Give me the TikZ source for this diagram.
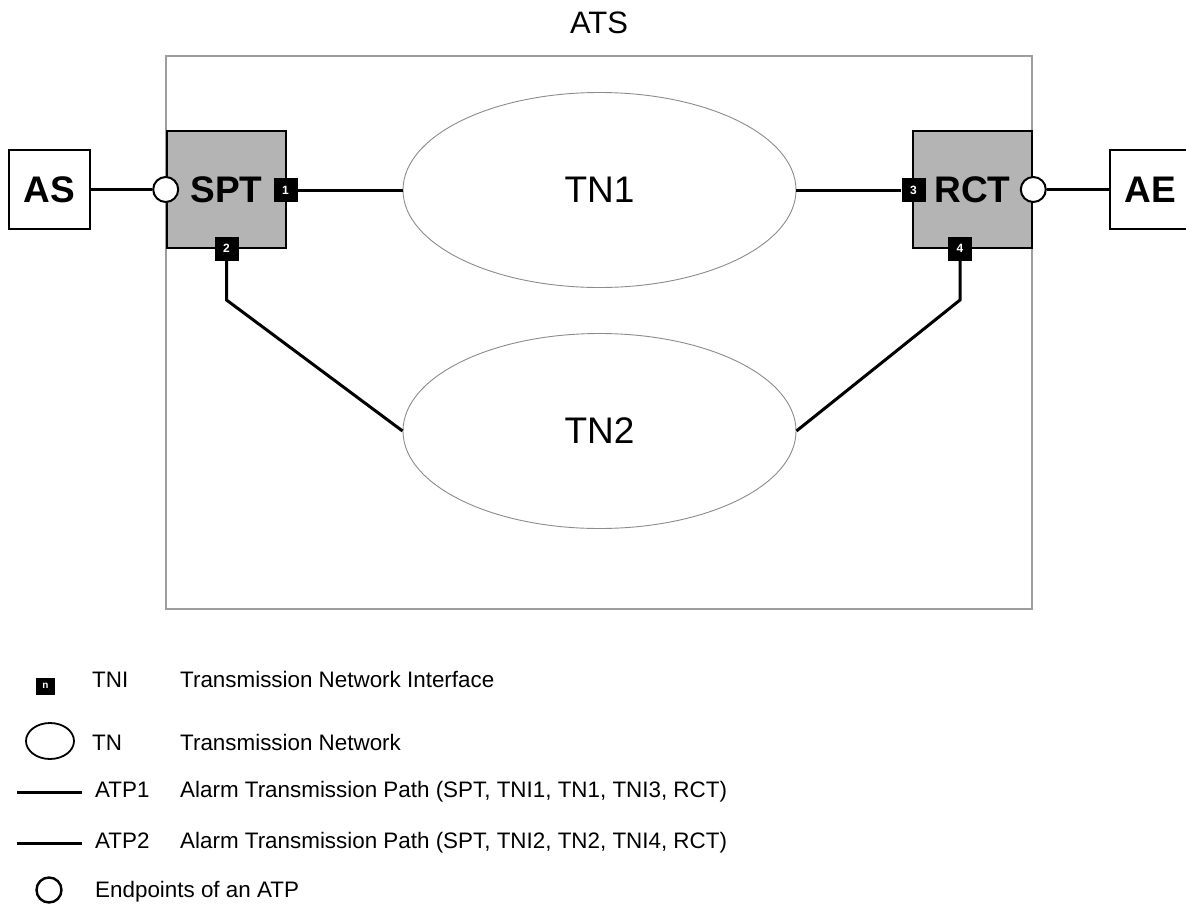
\documentclass[tikz,border=0pt]{standalone}
\usepackage{fontspec}
\setmainfont{Liberation Sans}
\usetikzlibrary{shapes.geometric}
\definecolor{boxgray}{HTML}{B4B4B4}
\definecolor{thingray}{HTML}{8C8C8C}
\tikzset{
  blk/.style={line width=3pt, black},
  termbox/.style={draw=black, line width=2.6pt, fill=boxgray, minimum width=119pt, minimum height=117pt, inner sep=0pt, font=\fontsize{37}{40}\selectfont\bfseries},
  extbox/.style={draw=black, line width=2.4pt, fill=white, minimum width=81pt, minimum height=79pt, inner sep=0pt, font=\fontsize{37}{40}\selectfont\bfseries},
  epcirc/.style={circle, draw=black, line width=2pt, fill=white, minimum size=25pt, inner sep=0pt},
  tni/.style={rectangle, fill=black, minimum width=24pt, minimum height=24pt, inner sep=0pt, text=white, font=\fontsize{12}{12}\selectfont\bfseries},
  tnell/.style={ellipse, draw=thingray, line width=0.9pt, minimum width=393pt, minimum height=195pt, inner sep=0pt, font=\fontsize{37}{40}\selectfont},
  legtxt/.style={anchor=base west, inner sep=0pt, font=\fontsize{22.4}{25}\selectfont},
}
\begin{document}
\begin{tikzpicture}[x=1pt, y=-1pt]
\useasboundingbox (0,0) rectangle (1186,908);
\fill[white] (0,0) rectangle (1186,908);

% ATS frame
\node[draw=thingray!85, line width=1.3pt, minimum width=866pt, minimum height=553pt, inner sep=0pt] (ats) at (599,332.5) {};
\node[inner sep=0pt, font=\fontsize{31}{34}\selectfont] (atslbl) at (599,23) {ATS};

% terminals
\node[termbox] (spt) at (226.5,189.5) {SPT};
\node[termbox] (rct) at (972.5,189.5) {RCT};
\node[extbox] (as) at (49.5,189.5) {AS};
\node[extbox] (ae) at (1150.5,189.5) {AE};

% networks
\node[tnell] (tn1) at (599.5,190) {TN1};
\node[tnell] (tn2) at (599.5,431) {TN2};

% interfaces
\node[tni] (t1) at (285.5,190) {1};
\node[tni] (t2) at (226.5,248.5) {2};
\node[tni] (t3) at (913.5,190) {3};
\node[tni] (t4) at (960,248.5) {4};

% endpoints
\node[epcirc] (ep1) at (spt.west) {};
\node[epcirc] (ep2) at (rct.east) {};

% connectors
\draw[blk] (as.east) -- (ep1.west);
\draw[blk] (ep2.east) -- (ae.west);
\draw[blk] (t1.east) -- (tn1.west);
\draw[blk] (tn1.east) -- (t3.west);
\coordinate (b2) at (226.5,300);
\coordinate (b4) at (960,300);
\draw[blk, line join=miter] (t2.south) -- (b2) -- (tn2.west);
\draw[blk, line join=miter] (t4.south) -- (b4) -- (tn2.east);

% legend
\node[tni, minimum width=19pt, minimum height=17pt, font=\fontsize{10}{10}\selectfont\bfseries] (lsq) at (45.5,686) {n};
\node[legtxt] (l1a) at (92,687) {TNI};
\node[legtxt] (l1b) at (180,687) {Transmission Network Interface};

\node[ellipse, draw=black, line width=1.8pt, minimum width=48pt, minimum height=36pt, inner sep=0pt] (lell) at (50,741) {};
\node[legtxt] (l2a) at (92,750) {TN};
\node[legtxt] (l2b) at (180,750) {Transmission Network};

\coordinate (la1) at (17,792);
\coordinate (la2) at (82,792);
\draw[line width=3pt] (la1) -- (la2);
\node[legtxt] (l3a) at (95,797) {ATP1};
\node[legtxt] (l3b) at (180,797) {Alarm Transmission Path (SPT, TNI1, TN1, TNI3, RCT)};

\coordinate (lb1) at (17,843);
\coordinate (lb2) at (82,843);
\draw[line width=3pt] (lb1) -- (lb2);
\node[legtxt] (l4a) at (95,848) {ATP2};
\node[legtxt] (l4b) at (180,848) {Alarm Transmission Path (SPT, TNI2, TN2, TNI4, RCT)};

\node[circle, draw=black, line width=2.4pt, minimum size=25pt, inner sep=0pt] (lcirc) at (49,890) {};
\node[legtxt] (l5) at (95,897) {Endpoints of an ATP};
\end{tikzpicture}
\end{document}
